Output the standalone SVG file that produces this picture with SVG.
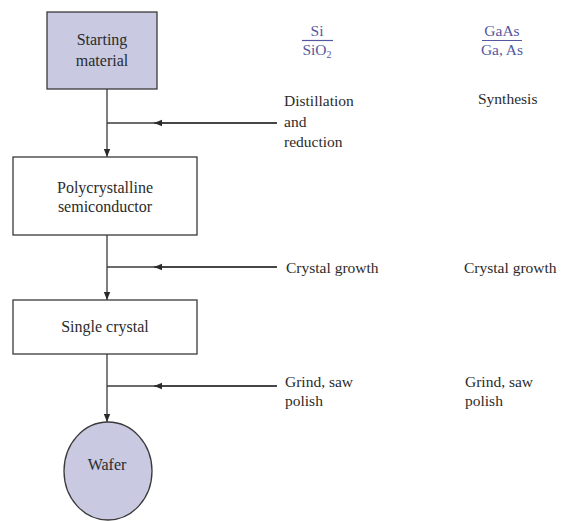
<svg xmlns="http://www.w3.org/2000/svg" width="561" height="521" viewBox="0 0 561 521">
<defs>
<style>
.box{fill:#fff;stroke:#3a3a3a;stroke-width:1.3}
.shaded{fill:#c9c9e2;stroke:#3a3a3a;stroke-width:1.3}
.ln{fill:none;stroke:#3a3a3a;stroke-width:1.3}
text{font-family:"Liberation Serif","Times New Roman",serif;font-size:15.5px;fill:#2b2b2b}
.n{font-size:16px}
.c{text-anchor:middle}
.blue{fill:#5558a0}
.bl{stroke:#5558a0;stroke-width:1.2}
</style>
<marker id="ah" viewBox="0 0 10 10" refX="10" refY="5" markerWidth="8" markerHeight="8" markerUnits="userSpaceOnUse" orient="auto">
<path d="M0,1 L10,5 L0,9 Z" fill="#2a2a2a"/>
</marker>
</defs>
<rect width="561" height="521" fill="#fff"/>

<g id="connectors">
<line class="ln" x1="107" y1="89" x2="107" y2="157" marker-end="url(#ah)"/>
<line class="ln" x1="277" y1="123" x2="107" y2="123"/>
<line class="ln" x1="277" y1="123" x2="154" y2="123" marker-end="url(#ah)"/>
<line class="ln" x1="107" y1="235" x2="107" y2="300" marker-end="url(#ah)"/>
<line class="ln" x1="277" y1="267" x2="107" y2="267"/>
<line class="ln" x1="277" y1="267" x2="154" y2="267" marker-end="url(#ah)"/>
<line class="ln" x1="107" y1="354" x2="107" y2="422" marker-end="url(#ah)"/>
<line class="ln" x1="277" y1="386" x2="107" y2="386"/>
<line class="ln" x1="277" y1="386" x2="154" y2="386" marker-end="url(#ah)"/>
</g>

<g id="starting-material">
<rect class="shaded" x="47" y="12" width="110" height="77"/>
<text class="c n" x="102" y="45">Starting</text>
<text class="c n" x="102" y="66">material</text>
</g>

<g id="polycrystalline">
<rect class="box" x="13" y="157" width="184" height="78"/>
<text class="c n" x="105" y="193">Polycrystalline</text>
<text class="c n" x="105" y="212">semiconductor</text>
</g>

<g id="single-crystal">
<rect class="box" x="13" y="300" width="184" height="54"/>
<text class="c n" x="105" y="332">Single crystal</text>
</g>

<g id="wafer">
<ellipse class="shaded" cx="108" cy="471" rx="44" ry="49"/>
<text class="c n" x="107" y="470">Wafer</text>
</g>

<g id="si-column">
<text class="c blue" x="317" y="36">Si</text>
<line class="bl" x1="302" y1="40.5" x2="333" y2="40.5"/>
<text class="c blue" x="317" y="55">SiO<tspan font-size="10" dy="3">2</tspan></text>
<text x="284" y="106">Distillation</text>
<text x="284" y="127">and</text>
<text x="284" y="147">reduction</text>
<text x="286" y="273">Crystal growth</text>
<text x="285" y="387">Grind, saw</text>
<text x="285" y="406">polish</text>
</g>

<g id="gaas-column">
<text class="c blue" x="502" y="36">GaAs</text>
<line class="bl" x1="482" y1="40.5" x2="522" y2="40.5"/>
<text class="c blue" x="502" y="55">Ga, As</text>
<text x="478" y="104">Synthesis</text>
<text x="464" y="273">Crystal growth</text>
<text x="465" y="387">Grind, saw</text>
<text x="465" y="406">polish</text>
</g>
</svg>
